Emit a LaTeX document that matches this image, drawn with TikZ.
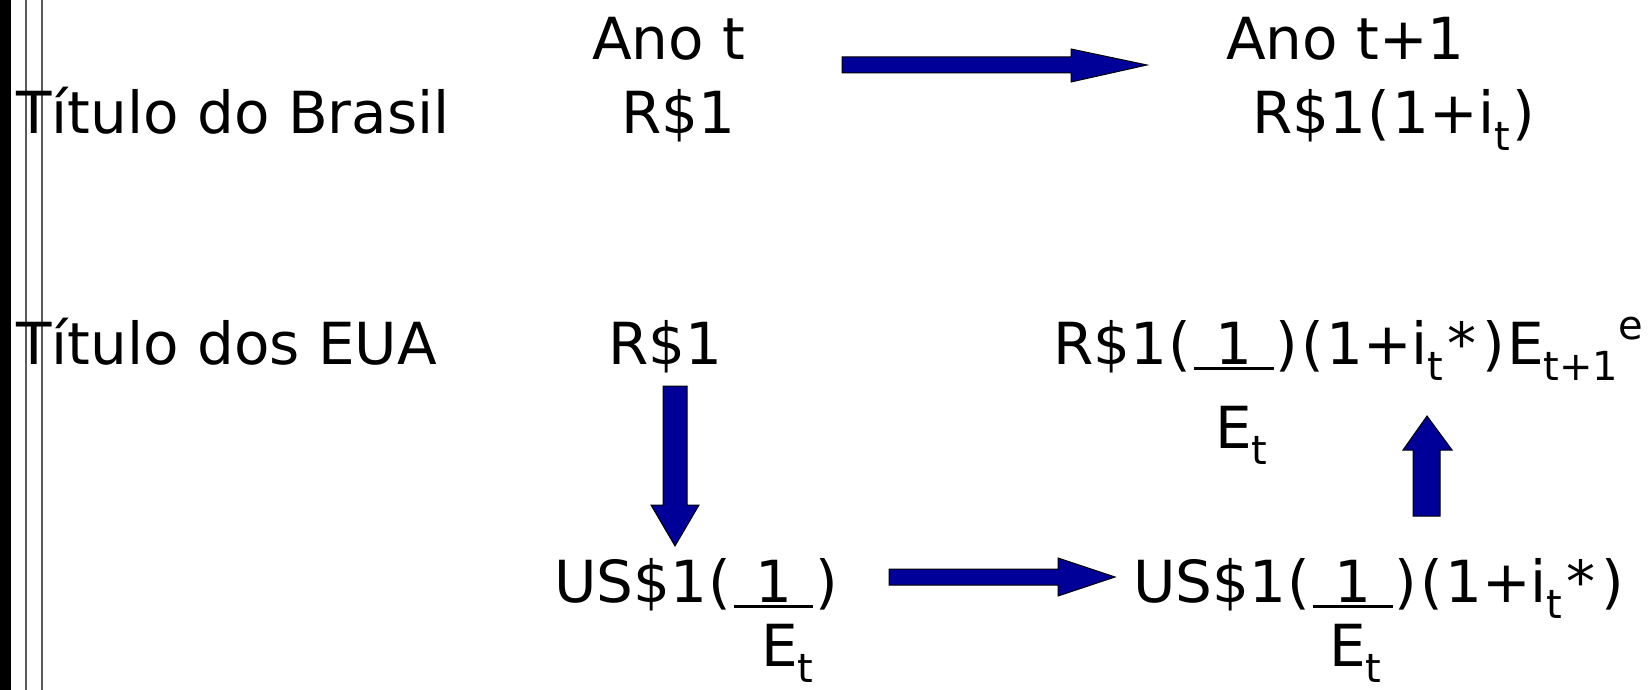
\documentclass[tikz,border=0pt]{standalone}
\usepackage{fontspec}
\setmainfont{DejaVu Sans}
\definecolor{arrblue}{RGB}{0,0,153}
\newcommand\mysub[1]{\raisebox{-0.29em}{\fontsize{40}{42}\selectfont #1}}
\newcommand\mysupr[1]{\raisebox{0.42em}{\fontsize{40}{42}\selectfont #1}}
\newcommand\lp{\hspace{0.03em}(\hspace{0.035em}}
\newcommand\rp{\hspace{0.035em})\hspace{0.03em}}
\newcommand\st{\hspace{0.07em}*\hspace{0.07em}}
\newsavebox\onebox
\newcommand\ulone{\sbox\onebox{\hspace{0.37em}1\hspace{0.37em}}\rlap{\rule[-6pt]{\wd\onebox}{3.5pt}}\usebox\onebox}
\tikzset{
  lbl/.style={inner sep=0pt, anchor=base west, font=\fontsize{58}{70}\selectfont},
  blockarrow/.style={fill=arrblue, draw=black, line width=1pt, line join=miter},
  sideline/.style={draw=black!65, line width=1.5pt}
}
\begin{document}
\begin{tikzpicture}[x=1pt,y=-1pt]
\useasboundingbox (0,0) rectangle (1650,690);
\fill[black] (0,0) rectangle (11,690);
\draw[sideline] (26,0) -- (26,690);
\draw[sideline] (42,0) -- (42,690);

\node[lbl] (anot) at (592,60) {Ano t};
\node[lbl] (anot1) at (1226,60) {Ano t+1};
\node[lbl] (tbr) at (16,134) {Título do Brasil};
\node[lbl] (rtop) at (621,134) {R\$1};
\node[lbl] (rtopr) at (1252,134) {R\$1\lp 1+i\mysub{t}\rp};

\node[lbl] (teua) at (16,364) {Título dos EUA};
\node[lbl] (rmid) at (608,364) {R\$1};
\node[lbl] (rmidr) at (1053,364) {R\$1\lp\ulone\rp\lp 1+i\mysub{t}\st\rp E\mysub{t+1}\mysupr{e}};
\node[lbl] (rmidE) at (1215,448) {E\mysub{t}};

\node[lbl] (usl) at (554,602) {US\$1\lp\ulone\rp};
\node[lbl] (uslE) at (761,666) {E\mysub{t}};
\node[lbl] (usr) at (1133,602) {US\$1\lp\ulone\rp\lp 1+i\mysub{t}\st\rp};
\node[lbl] (usrE) at (1329,666) {E\mysub{t}};

% block arrows
\filldraw[blockarrow] (842,57) -- (1071,57) -- (1071,49) -- (1147,65) -- (1071,82) -- (1071,73) -- (842,73) -- cycle;
\filldraw[blockarrow] (663,386) -- (687,386) -- (687,505) -- (699,505) -- (675,546) -- (651,505) -- (663,505) -- cycle;
\filldraw[blockarrow] (1413,516) -- (1440,516) -- (1440,450) -- (1452,450) -- (1427,416) -- (1403,450) -- (1413,450) -- cycle;
\filldraw[blockarrow] (889,569) -- (1058,569) -- (1058,558) -- (1115,577) -- (1058,596) -- (1058,585) -- (889,585) -- cycle;
\end{tikzpicture}
\end{document}
